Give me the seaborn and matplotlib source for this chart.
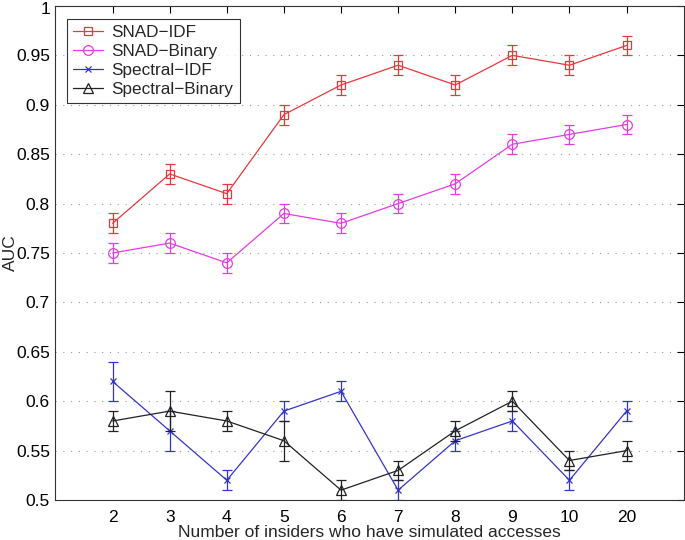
import matplotlib
matplotlib.use("Agg")
import matplotlib.pyplot as plt
import matplotlib.transforms as mtransforms
import seaborn as sns
import numpy as np
import pandas as pd

categories = ["2", "3", "4", "5", "6", "7", "8", "9", "10", "20"]

snad_idf = [0.78, 0.83, 0.81, 0.89, 0.92, 0.94, 0.92, 0.95, 0.94, 0.96]
snad_idf_err = [0.01, 0.01, 0.01, 0.01, 0.01, 0.01, 0.01, 0.01, 0.01, 0.01]
snad_bin = [0.75, 0.76, 0.74, 0.79, 0.78, 0.80, 0.82, 0.86, 0.87, 0.88]
snad_bin_err = [0.01, 0.01, 0.01, 0.01, 0.01, 0.01, 0.01, 0.01, 0.01, 0.01]
spec_idf = [0.62, 0.57, 0.52, 0.59, 0.61, 0.51, 0.56, 0.58, 0.52, 0.59]
spec_idf_err = [0.02, 0.02, 0.01, 0.01, 0.01, 0.01, 0.01, 0.01, 0.01, 0.01]
spec_bin = [0.58, 0.59, 0.58, 0.56, 0.51, 0.53, 0.57, 0.60, 0.54, 0.55]
spec_bin_err = [0.01, 0.02, 0.01, 0.02, 0.01, 0.01, 0.01, 0.01, 0.01, 0.01]

series_names = ["SNAD\u2212IDF", "SNAD\u2212Binary", "Spectral\u2212IDF", "Spectral\u2212Binary"]
series_vals = [snad_idf, snad_bin, spec_idf, spec_bin]
series_errs = [snad_idf_err, snad_bin_err, spec_idf_err, spec_bin_err]
colors = ["#e8383d", "#e33ce3", "#3535cc", "#222222"]
markers = ["s", "o", "x", "^"]
msizes = [6, 7, 4.5, 7]

sns.set_theme(style="white")
plt.rcParams['font.family'] = ['Liberation Sans', 'DejaVu Sans']

fig = plt.figure(figsize=(6.85, 5.4), dpi=100)
ax = fig.add_axes([0.081, 0.074, 0.917, 0.915])

xpos = np.arange(1, len(categories) + 1)
for name, vals, errs, c, m, ms in zip(series_names, series_vals, series_errs, colors, markers, msizes):
    df = pd.DataFrame({"x": xpos, "y": vals})
    ax.errorbar(xpos, vals, yerr=errs, fmt="none", ecolor=c, elinewidth=0.9, capsize=3.5, capthick=0.9)
    sns.lineplot(data=df, x="x", y="y", ax=ax, color=c, marker=m, markersize=ms,
                 markerfacecolor="none", markeredgecolor=c, markeredgewidth=0.9,
                 linewidth=0.9, label=name)

ax.set_xlim(0, 11)
ax.set_ylim(0.5, 1.0)
ax.set_xticks(xpos)
ax.set_xticklabels(categories)
yt = np.round(np.arange(0.5, 1.0001, 0.05), 2)
ax.set_yticks(yt)
ax.set_yticklabels(["0.5", "0.55", "0.6", "0.65", "0.7", "0.75", "0.8", "0.85", "0.9", "0.95", "1"])
for y in yt[1:-1]:
    ax.axhline(y, color="#999999", linestyle=(0, (1, 6)), linewidth=0.8, zorder=0)
ax.tick_params(direction="in", top=True, right=True, length=5, width=0.8,
               labelsize=12.5, colors="black")
ax.tick_params(axis="y", pad=4)
ax.tick_params(axis="x", pad=7)
top_lbl = ax.get_yticklabels()[-1]
top_lbl.set_transform(top_lbl.get_transform() + mtransforms.ScaledTranslation(0, -2 / 100, fig.dpi_scale_trans))
for s in ax.spines.values():
    s.set_color("#333333")
    s.set_linewidth(0.8)
ax.set_xlabel("Number of insiders who have simulated accesses", fontsize=12.5, labelpad=0)
ax.set_ylabel("AUC", fontsize=12.5)
ax.yaxis.set_label_coords(-0.060, 0.5)

leg = ax.legend(loc="upper left", bbox_to_anchor=(0.005, 0.99), fontsize=12.3, frameon=True,
                fancybox=False, edgecolor="black", handlelength=1.75, borderpad=0.35,
                labelspacing=0.22, handletextpad=0.5)
leg.get_frame().set_linewidth(0.8)

fig.savefig("out.png", dpi=100)
